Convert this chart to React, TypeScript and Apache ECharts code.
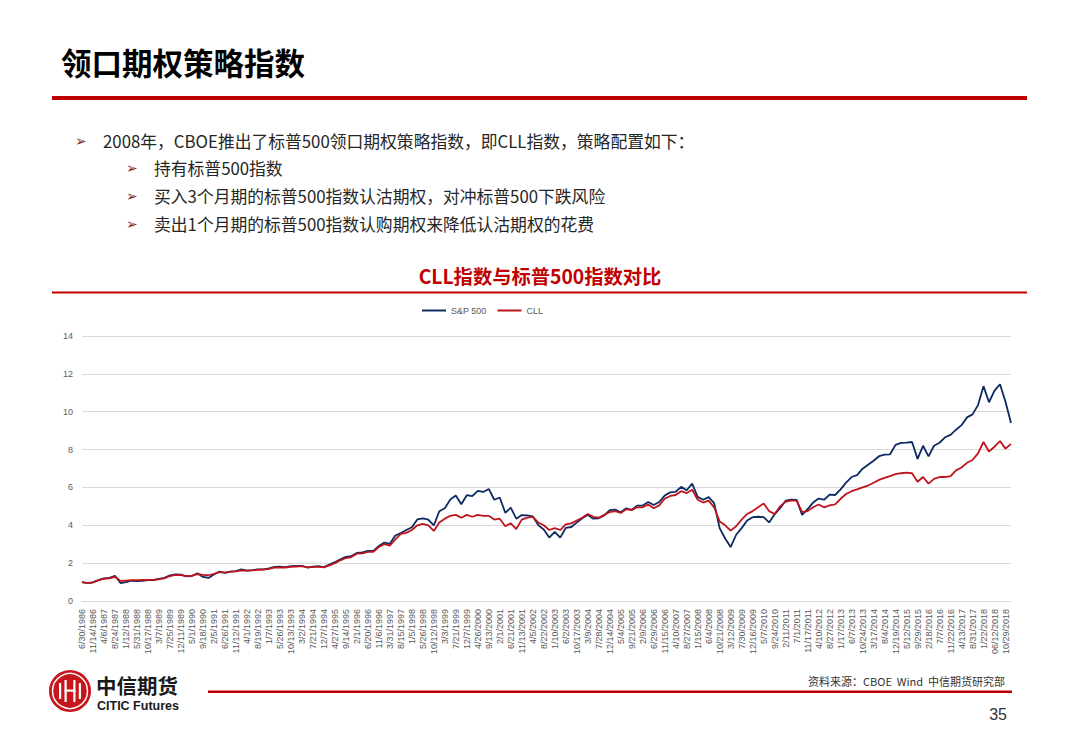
import React, { useEffect, useRef } from "react";
import * as echarts from "echarts";

// x-axis tick labels (one every ~100 trading days)
const labelDates = [
  "6/30/1986", "11/14/1986", "4/6/1987", "8/24/1987", "1/12/1988", "5/31/1988", "10/17/1988", "3/7/1989",
  "7/25/1989", "12/11/1989", "5/1/1990", "9/18/1990", "2/5/1991", "6/26/1991", "11/12/1991", "4/1/1992",
  "8/19/1992", "1/7/1993", "5/26/1993", "10/13/1993", "3/2/1994", "7/21/1994", "12/7/1994", "4/27/1995",
  "9/14/1995", "2/1/1996", "6/20/1996", "11/6/1996", "3/31/1997", "8/15/1997", "1/5/1998", "5/26/1998",
  "10/12/1998", "3/3/1999", "7/21/1999", "12/7/1999", "4/26/2000", "9/13/2000", "2/1/2001", "6/21/2001",
  "11/13/2001", "4/5/2002", "8/22/2002", "1/10/2003", "6/2/2003", "10/17/2003", "3/9/2004", "7/28/2004",
  "12/14/2004", "5/4/2005", "9/21/2005", "2/9/2006", "6/29/2006", "11/15/2006", "4/10/2007", "8/27/2007",
  "1/15/2008", "6/4/2008", "10/21/2008", "3/12/2009", "7/30/2009", "12/16/2009", "5/7/2010", "9/24/2010",
  "2/11/2011", "7/1/2011", "11/17/2011", "4/10/2012", "8/27/2012", "1/17/2013", "6/7/2013", "10/24/2013",
  "3/17/2014", "8/4/2014", "12/19/2014", "5/12/2015", "9/29/2015", "2/18/2016", "7/7/2016", "11/22/2016",
  "4/13/2017", "8/31/2017", "1/22/2018", "06/12/2018", "10/29/2018",
];

// two samples per label interval: at the label date and halfway to the next one
const categories = labelDates.flatMap((d) => [d, ""]);

const seriesNames = ["S&P 500", "CLL"];

const sp500 = [
  1.00, 0.94, 0.98, 1.10, 1.20, 1.22, 1.33, 0.95, 1.00, 1.07,
  1.05, 1.06, 1.10, 1.10, 1.17, 1.22, 1.35, 1.40, 1.39, 1.30,
  1.32, 1.46, 1.27, 1.22, 1.40, 1.55, 1.48, 1.55, 1.58, 1.67,
  1.61, 1.63, 1.67, 1.67, 1.72, 1.80, 1.81, 1.79, 1.84, 1.85,
  1.85, 1.77, 1.81, 1.84, 1.79, 1.93, 2.05, 2.20, 2.33, 2.37,
  2.54, 2.57, 2.65, 2.65, 2.91, 3.09, 3.02, 3.46, 3.59, 3.75,
  3.90, 4.31, 4.36, 4.30, 3.99, 4.74, 4.90, 5.36, 5.57, 5.11,
  5.59, 5.54, 5.82, 5.76, 5.92, 5.35, 5.47, 4.66, 4.93, 4.35,
  4.54, 4.52, 4.47, 4.01, 3.78, 3.35, 3.65, 3.35, 3.86, 3.91,
  4.14, 4.37, 4.55, 4.35, 4.37, 4.52, 4.80, 4.83, 4.69, 4.90,
  4.82, 5.04, 5.04, 5.23, 5.07, 5.23, 5.57, 5.74, 5.77, 6.03,
  5.85, 6.20, 5.50, 5.35, 5.49, 5.17, 3.85, 3.30, 2.85, 3.50,
  3.85, 4.25, 4.43, 4.45, 4.43, 4.15, 4.58, 4.90, 5.30, 5.35,
  5.34, 4.55, 4.85, 5.20, 5.41, 5.35, 5.62, 5.60, 5.90, 6.25,
  6.55, 6.65, 6.99, 7.20, 7.41, 7.65, 7.73, 7.75, 8.25, 8.35,
  8.37, 8.40, 7.51, 8.20, 7.64, 8.20, 8.36, 8.65, 8.78, 9.05,
  9.29, 9.70, 9.86, 10.35, 11.35, 10.50, 11.11, 11.45, 10.53, 9.40,
];

const cll = [
  1.00, 0.94, 0.98, 1.10, 1.17, 1.20, 1.28, 1.06, 1.08, 1.10,
  1.10, 1.11, 1.12, 1.12, 1.16, 1.20, 1.32, 1.38, 1.37, 1.32,
  1.34, 1.42, 1.38, 1.36, 1.44, 1.53, 1.50, 1.55, 1.57, 1.62,
  1.60, 1.62, 1.65, 1.66, 1.70, 1.76, 1.77, 1.77, 1.80, 1.82,
  1.84, 1.78, 1.80, 1.80, 1.78, 1.88, 2.00, 2.15, 2.27, 2.32,
  2.50, 2.52, 2.60, 2.60, 2.85, 3.00, 2.93, 3.25, 3.55, 3.60,
  3.75, 4.00, 4.07, 4.00, 3.70, 4.15, 4.35, 4.50, 4.55, 4.40,
  4.55, 4.45, 4.55, 4.50, 4.50, 4.30, 4.35, 3.95, 4.10, 3.80,
  4.30, 4.40, 4.45, 4.15, 4.00, 3.75, 3.85, 3.75, 4.05, 4.10,
  4.25, 4.40, 4.60, 4.45, 4.40, 4.55, 4.70, 4.75, 4.65, 4.85,
  4.80, 4.95, 4.95, 5.10, 4.90, 5.05, 5.40, 5.55, 5.60, 5.80,
  5.70, 5.88, 5.35, 5.20, 5.30, 4.95, 4.20, 4.00, 3.72, 3.95,
  4.30, 4.60, 4.75, 4.95, 5.15, 4.75, 4.60, 5.00, 5.25, 5.30,
  5.30, 4.70, 4.75, 4.95, 5.10, 4.95, 5.05, 5.10, 5.40, 5.65,
  5.80, 5.90, 6.00, 6.10, 6.25, 6.40, 6.50, 6.60, 6.70, 6.75,
  6.78, 6.75, 6.30, 6.55, 6.20, 6.45, 6.55, 6.55, 6.60, 6.90,
  7.05, 7.30, 7.45, 7.80, 8.40, 7.90, 8.15, 8.45, 8.05, 8.30,
];

const yMin = 0;
const yMax = 14;
const yStep = 2;

const pageTitle = "领口期权策略指数";
const bulletMain = "2008年，CBOE推出了标普500领口期权策略指数，即CLL指数，策略配置如下：";
const bulletSubs = [
  "持有标普500指数",
  "买入3个月期的标普500指数认沽期权，对冲标普500下跌风险",
  "卖出1个月期的标普500指数认购期权来降低认沽期权的花费",
];
const chartTitle = "CLL指数与标普500指数对比";
const sourceText = "资料来源：CBOE  Wind  中信期货研究部";
const pageNumber = "35";

const RED = "#C00000";
const NAVY = "#0E2A63";
const LINE_RED = "#C0141C";
const ARROW = "#7E2B2B";
const CJK = "'Noto Sans CJK SC', 'Noto Sans', sans-serif";
const LAT = "'Liberation Sans', Arial, sans-serif";

export default function App() {
  const ref = useRef<HTMLDivElement>(null);

  useEffect(() => {
    if (!ref.current) return;
    const chart = echarts.init(ref.current, undefined, { renderer: "svg" });

    const bulletY = [141, 168, 196, 224];
    const graphics: any[] = [
      {
        type: "text",
        style: { text: pageTitle, x: 61, y: 62, fill: "#000", fontSize: 30.5, fontWeight: "bold", fontFamily: CJK, textVerticalAlign: "middle" },
      },
      { type: "rect", shape: { x: 52, y: 96, width: 975, height: 4 }, style: { fill: RED } },
      {
        type: "text",
        style: { text: "➢", x: 75, y: bulletY[0], fill: ARROW, fontSize: 14, fontFamily: "'DejaVu Sans', sans-serif", textVerticalAlign: "middle" },
      },
      {
        type: "text",
        style: { text: bulletMain, x: 103, y: bulletY[0], fill: "#262626", fontSize: 16.8, fontFamily: CJK, textVerticalAlign: "middle" },
      },
      ...bulletSubs.flatMap((t, i) => [
        {
          type: "text",
          style: { text: "➢", x: 126, y: bulletY[i + 1], fill: ARROW, fontSize: 14, fontFamily: "'DejaVu Sans', sans-serif", textVerticalAlign: "middle" },
        },
        {
          type: "text",
          style: { text: t, x: 154, y: bulletY[i + 1], fill: "#262626", fontSize: 16.8, fontFamily: CJK, textVerticalAlign: "middle" },
        },
      ]),
      {
        type: "text",
        style: { text: chartTitle, x: 540, y: 276, fill: RED, fontSize: 19.3, fontWeight: "bold", fontFamily: CJK, textAlign: "center", textVerticalAlign: "middle" },
      },
      { type: "rect", shape: { x: 52, y: 291.5, width: 975, height: 2 }, style: { fill: RED } },
      // footer logo
      { type: "circle", shape: { cx: 70, cy: 691, r: 21 }, style: { fill: "#C8161D" } },
      { type: "circle", shape: { cx: 70, cy: 691, r: 17.5 }, style: { fill: "none", stroke: "#fff", lineWidth: 1.5 } },
      { type: "rect", shape: { x: 59, y: 683, width: 2.2, height: 16 }, style: { fill: "#fff" } },
      { type: "rect", shape: { x: 64.5, y: 680, width: 2.2, height: 22 }, style: { fill: "#fff" } },
      { type: "rect", shape: { x: 73.3, y: 680, width: 2.2, height: 22 }, style: { fill: "#fff" } },
      { type: "rect", shape: { x: 78.8, y: 683, width: 2.2, height: 16 }, style: { fill: "#fff" } },
      { type: "rect", shape: { x: 64.5, y: 689.5, width: 11, height: 2.2 }, style: { fill: "#fff" } },
      {
        type: "text",
        style: { text: "中信期货", x: 96, y: 685, fill: "#1a1a1a", fontSize: 20.5, fontWeight: "bold", fontFamily: CJK, textVerticalAlign: "middle" },
      },
      {
        type: "text",
        style: { text: "CITIC Futures", x: 97, y: 706, fill: "#1a1a1a", fontSize: 12.5, fontWeight: "bold", fontFamily: LAT, textVerticalAlign: "middle" },
      },
      { type: "rect", shape: { x: 208, y: 690.5, width: 804, height: 2.5 }, style: { fill: RED } },
      {
        type: "text",
        style: { text: sourceText, x: 1005, y: 681, fill: "#333", fontSize: 11, fontFamily: CJK, textAlign: "right", textVerticalAlign: "middle" },
      },
      {
        type: "text",
        style: { text: pageNumber, x: 1007, y: 714, fill: "#333", fontSize: 16, fontFamily: LAT, textAlign: "right", textVerticalAlign: "middle" },
      },
    ];

    chart.setOption({
      animation: false,
      backgroundColor: "#fff",
      textStyle: { fontFamily: LAT },
      graphic: graphics,
      legend: {
        data: seriesNames,
        top: 301,
        left: 417,
        icon: "rect",
        itemWidth: 24,
        itemHeight: 2,
        itemGap: 11,
        textStyle: { fontSize: 9, color: "#595959", fontFamily: LAT },
      },
      grid: { left: 82, right: 69, top: 336, bottom: 147, containLabel: false },
      xAxis: {
        type: "category",
        data: categories,
        boundaryGap: false,
        axisLine: { lineStyle: { color: "#d9d9d9", width: 1 } },
        axisTick: { show: false },
        axisLabel: { interval: 1, rotate: 90, fontSize: 9, color: "#595959", fontFamily: LAT, margin: 8 },
        splitLine: { show: false },
      },
      yAxis: {
        type: "value",
        min: yMin,
        max: yMax,
        interval: yStep,
        axisLine: { show: false },
        axisTick: { show: false },
        axisLabel: { fontSize: 9, color: "#595959", fontFamily: LAT, margin: 9 },
        splitLine: { lineStyle: { color: "#d9d9d9", width: 1 } },
      },
      series: [
        {
          name: seriesNames[0],
          type: "line",
          data: sp500,
          symbol: "none",
          color: NAVY,
          lineStyle: { color: NAVY, width: 1.8 },
        },
        {
          name: seriesNames[1],
          type: "line",
          data: cll,
          symbol: "none",
          color: LINE_RED,
          lineStyle: { color: LINE_RED, width: 1.8 },
        },
      ],
    });

    return () => chart.dispose();
  }, []);

  return (
    <div
      ref={ref}
      style={{ position: "fixed", left: 0, top: 0, width: 1080, height: 748, background: "#fff" }}
    />
  );
}
